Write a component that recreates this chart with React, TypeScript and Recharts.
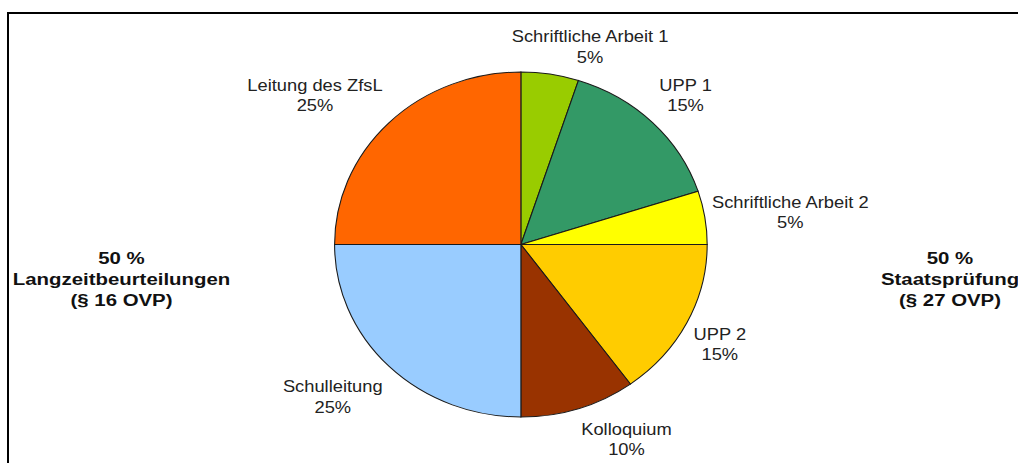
import { PieChart, Pie, Cell } from "recharts";

const SLICES = [
  "Schriftliche Arbeit 1",
  "UPP 1",
  "Schriftliche Arbeit 2",
  "UPP 2",
  "Kolloquium",
  "Schulleitung",
  "Leitung des ZfsL",
];
const SHARES = [5, 15, 5, 15, 10, 25, 25];
const COLORS = [
  "#99cc00",
  "#339966",
  "#ffff00",
  "#ffcc00",
  "#993300",
  "#99ccff",
  "#ff6600",
];
const SIDE_LEFT = ["50 %", "Langzeitbeurteilungen", "(§ 16 OVP)"];
const SIDE_RIGHT = ["50 %", "Staatsprüfung", "(§ 27 OVP)"];

const data = SLICES.map((name, i) => ({ name, value: SHARES[i] }));

// the source picture is a bit wider than tall, so the whole pie gets stretched
const STRETCH = 1.08;
const TEXT_STRETCH = 1.06;
const FONT = "'Liberation Sans', Arial, Helvetica, sans-serif";
const RAD = Math.PI / 180;

let ctx: CanvasRenderingContext2D | null = null;
function textWidth(s: string, size: number) {
  if (!ctx) ctx = document.createElement("canvas").getContext("2d");
  if (!ctx) return s.length * size * 0.5;
  ctx.font = `${size}px ${FONT}`;
  return ctx.measureText(s).width;
}

const clamp = (v: number) => Math.max(-1, Math.min(1, v));

function renderLabel(props: any) {
  const { cx, cy, midAngle, outerRadius, name, value } = props;
  const cos = Math.cos(midAngle * RAD);
  const sin = Math.sin(midAngle * RAD);
  const pct = `${value}%`;
  const w =
    Math.max(textWidth(name, 16), textWidth(pct, 16)) * TEXT_STRETCH;
  const x = cx + outerRadius * cos + clamp(cos * 3) * (w / 2 + 6);
  const y = cy - outerRadius * sin - clamp(sin * 1.5) * 29;
  return (
    <g transform={`translate(${x},${y}) scale(${TEXT_STRETCH},1)`}>
      <text textAnchor="middle" fontSize={16} fill="#222" fontFamily={FONT}>
        <tspan x={0} y={-3}>
          {name}
        </tspan>
        <tspan x={0} y={17.5}>
          {pct}
        </tspan>
      </text>
    </g>
  );
}

function SideText({ lines, x }: { lines: string[]; x: number }) {
  return (
    <>
      {lines.map((line, i) => (
        <text
          key={i}
          transform={`translate(${x},${264 + i * 21}) scale(1.2,1)`}
          textAnchor="middle"
          fontSize={17}
          fontWeight="bold"
          fill="#111"
          fontFamily={FONT}
        >
          {line}
        </text>
      ))}
    </>
  );
}

export default function App() {
  return (
    <div
      style={{
        position: "absolute",
        left: 0,
        top: 0,
        width: 1018,
        height: 463,
        overflow: "hidden",
        background: "#fff",
      }}
    >
      <div
        style={{
          position: "absolute",
          left: 7,
          top: 12,
          width: 1100,
          height: 500,
          border: "2px solid #000",
        }}
      />

      <div
        style={{
          position: "absolute",
          left: 0,
          top: 0,
          transform: `scaleX(${STRETCH})`,
          transformOrigin: "0 0",
        }}
      >
        <PieChart
          width={943}
          height={463}
          margin={{ top: 0, right: 0, bottom: 0, left: 0 }}
        >
          <Pie
            data={data}
            dataKey="value"
            nameKey="name"
            cx={482.3}
            cy={244.5}
            outerRadius={172.5}
            startAngle={90}
            endAngle={-270}
            stroke="#1a1a1a"
            strokeWidth={1}
            label={renderLabel}
            labelLine={false}
            isAnimationActive={false}
          >
            {data.map((_, index) => (
              <Cell key={index} fill={COLORS[index % COLORS.length]} />
            ))}
          </Pie>
        </PieChart>
      </div>

      <svg
        width={1018}
        height={463}
        style={{ position: "absolute", left: 0, top: 0, pointerEvents: "none" }}
      >
        <SideText lines={SIDE_LEFT} x={121.5} />
        <SideText lines={SIDE_RIGHT} x={950} />
      </svg>
    </div>
  );
}
